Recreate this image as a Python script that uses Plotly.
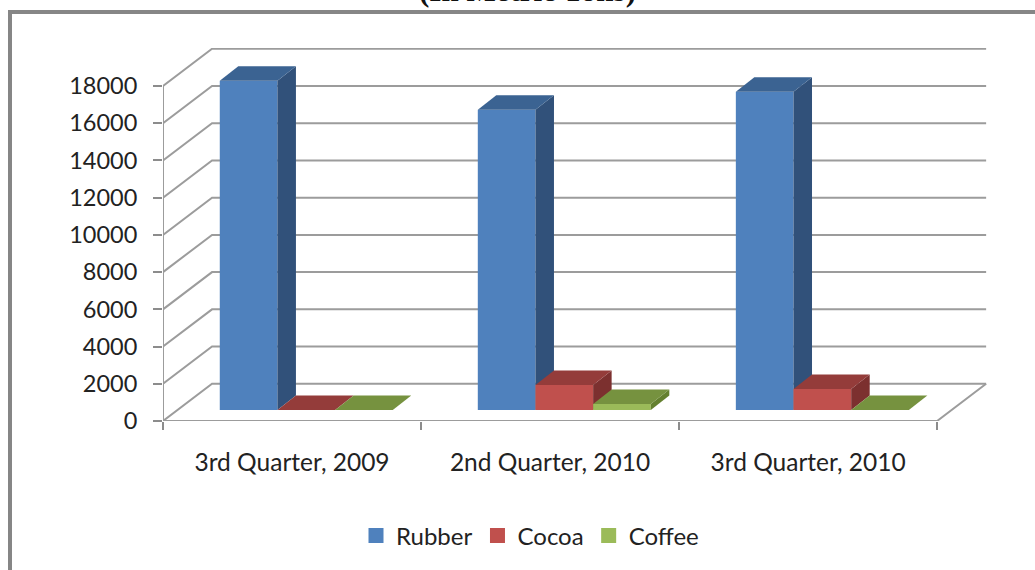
import plotly.graph_objects as go

categories = ["3rd Quarter, 2009", "2nd Quarter, 2010", "3rd Quarter, 2010"]
rubber = [17690, 16130, 17100]
cocoa = [0, 1340, 1130]
coffee = [0, 320, 0]
y_ticks = list(range(0, 18001, 2000))
title_text = "(In Metric Tons)"

FONT = "Lato"
GRID = "#9c9c9c"
W, H = 1035, 570
ML, MR, MT, MB = 163, 45, 48, 149
X_MAX = 3.205
Y_MAX = 20042

WALL_DX, WALL_DY = 0.19, 2000      # depth of the chart floor
BAR_DX, BAR_DY = 0.0717, 780       # depth of each bar
BAR_W = 0.2235
BAR_START = 0.22
FLOOR = 590                        # bars stand this far above the front edge

series = [
    ("Rubber", rubber, "#4F81BD", "#3B6392", "#31517A"),
    ("Cocoa", cocoa, "#C0504D", "#943C3A", "#7C302F"),
    ("Coffee", coffee, "#9BBB59", "#76923F", "#64802F"),
]

fig = go.Figure()


def poly(xs, ys, color):
    fig.add_trace(go.Scatter(
        x=xs, y=ys, mode="lines", fill="toself", fillcolor=color,
        line=dict(width=0, color=color), showlegend=False, hoverinfo="skip",
        cliponaxis=False,
    ))


def line(xs, ys):
    fig.add_trace(go.Scatter(
        x=xs, y=ys, mode="lines", line=dict(width=2, color=GRID),
        showlegend=False, hoverinfo="skip", cliponaxis=False,
    ))


# back wall grid, side wall and floor
for v in y_ticks:
    line([0, WALL_DX, 3 + WALL_DX], [v, v + WALL_DY, v + WALL_DY])
line([3 + WALL_DX, 3, 0], [WALL_DY, 0, 0])
line([0, 0], [0, y_ticks[-1]])

# 3-D bars
for c in range(len(categories)):
    for s, (name, values, front, top, side) in enumerate(series):
        v = values[c]
        x0 = c + BAR_START + s * BAR_W
        x1 = x0 + BAR_W
        y0 = FLOOR
        y1 = FLOOR + v
        if v > 0:
            poly([x0, x1, x1, x0, x0], [y0, y0, y1, y1, y0], front)
        poly([x1, x1 + BAR_DX, x1 + BAR_DX, x1, x1],
             [y0, y0 + BAR_DY, y1 + BAR_DY, y1, y0], side)
        poly([x0, x1, x1 + BAR_DX, x0 + BAR_DX, x0],
             [y1, y1, y1 + BAR_DY, y1 + BAR_DY, y1], top)

# legend entries
for name, values, front, top, side in series:
    fig.add_trace(go.Scatter(
        x=[None], y=[None], mode="markers", name=name,
        marker=dict(symbol="square", size=15, color=front),
    ))


def fx(px):
    return (px - ML) / (W - ML - MR)


def fy(py):
    return (H - MB - py) / (H - MB - MT)


frame = dict(type="line", xref="paper", yref="paper",
             line=dict(color="#868686", width=4), layer="below")

fig.update_layout(
    width=W, height=H,
    margin=dict(l=ML, r=MR, t=MT, b=MB, pad=0, autoexpand=False),
    paper_bgcolor="white", plot_bgcolor="rgba(0,0,0,0)",
    font=dict(family=FONT, size=23, color="#222222"),
    showlegend=True,
    hovermode=False,
    legend=dict(
        orientation="h", x=fx(530), xanchor="center", y=fy(536), yanchor="middle",
        font=dict(family=FONT, size=24, color="#222222"),
        bgcolor="rgba(0,0,0,0)", traceorder="normal",
    ),
    xaxis=dict(
        range=[0, X_MAX], showgrid=False, zeroline=False, showline=False,
        tickmode="array", tickvals=[0.5, 1.5, 2.5], ticktext=categories,
        ticks="", ticklabelstandoff=24,
        tickfont=dict(family=FONT, size=24.5, color="#222222"),
        minor=dict(tickmode="array", tickvals=[0, 1, 2, 3], ticks="outside",
                   ticklen=8, tickwidth=2, tickcolor="#8c8c8c", showgrid=False),
    ),
    yaxis=dict(
        range=[0, Y_MAX], showgrid=False, zeroline=False, showline=False,
        tickmode="array", tickvals=y_ticks, ticktext=[str(v) for v in y_ticks],
        ticks="outside", ticklen=9, tickwidth=2, tickcolor="#8c8c8c",
        ticklabelstandoff=11,
        tickfont=dict(family=FONT, size=23.5, color="#222222"),
    ),
    shapes=[
        dict(frame, x0=fx(10), x1=fx(10), y0=fy(10), y1=fy(590)),
        dict(frame, x0=fx(8), x1=fx(1050), y0=fy(12), y1=fy(12)),
    ],
    annotations=[dict(
        text="<b>" + title_text + "</b>", xref="paper", yref="paper",
        x=fx(527), y=fy(10), xanchor="center", yanchor="bottom", showarrow=False,
        font=dict(family="Liberation Serif", size=31, color="#111111"),
    )],
)

fig.write_html(
    "out.html",
    config=dict(displayModeBar=False),
    post_script="document.body.style.margin='0';document.body.style.overflow='hidden';",
)
